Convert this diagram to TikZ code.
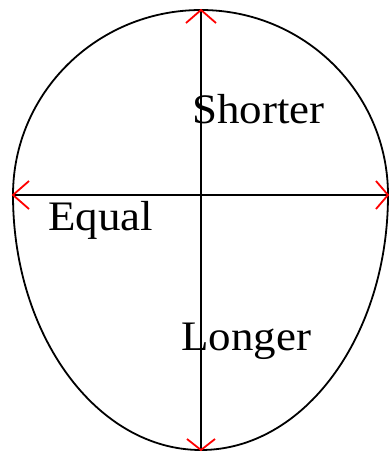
\documentclass[tikz,border=0pt]{standalone}
\usepackage{fontspec}
\setmainfont{Liberation Serif}
\begin{document}
\begin{tikzpicture}[x=1pt,y=-1pt,
  outline/.style={line width=1.8pt,black},
  axis/.style={line width=2.6pt,black},
  redbarb/.style={line width=1.8pt,red},
  lbl/.style={anchor=base west,inner sep=0pt,font=\fontsize{42}{42}\selectfont,xscale=1.07}]
\useasboundingbox (0,0) rectangle (390,453);
\coordinate (C) at (201,195);
\coordinate (T) at (201,10);
\coordinate (B) at (201,450);
\coordinate (L) at (13,195);
\coordinate (R) at (388,195);
% egg outline
\draw[outline] (L) arc[start angle=180,end angle=270,x radius=188,y radius=185]
  arc[start angle=270,end angle=360,x radius=187,y radius=185]
  arc[start angle=0,end angle=90,x radius=187,y radius=255]
  arc[start angle=90,end angle=180,x radius=188,y radius=255];
% axes
\draw[axis] (T) -- (B);
\draw[axis] (L) -- (R);
% red barbs
\draw[redbarb] (T) ++(-15,13) -- (T) -- ++(15,13);
\draw[redbarb] (B) ++(-14,-11) -- (B) -- ++(14,-11);
\draw[redbarb] (L) ++(16,-14) -- (L) -- ++(16,14);
\draw[redbarb] (R) ++(-12,-14) -- (R) -- ++(-12,14);
% labels
\node[lbl] (shorter) at (192,123) {Shorter};
\node[lbl] (equal) at (48,230) {Equal};
\node[lbl] (longer) at (181,350) {Longer};
\end{tikzpicture}
\end{document}
